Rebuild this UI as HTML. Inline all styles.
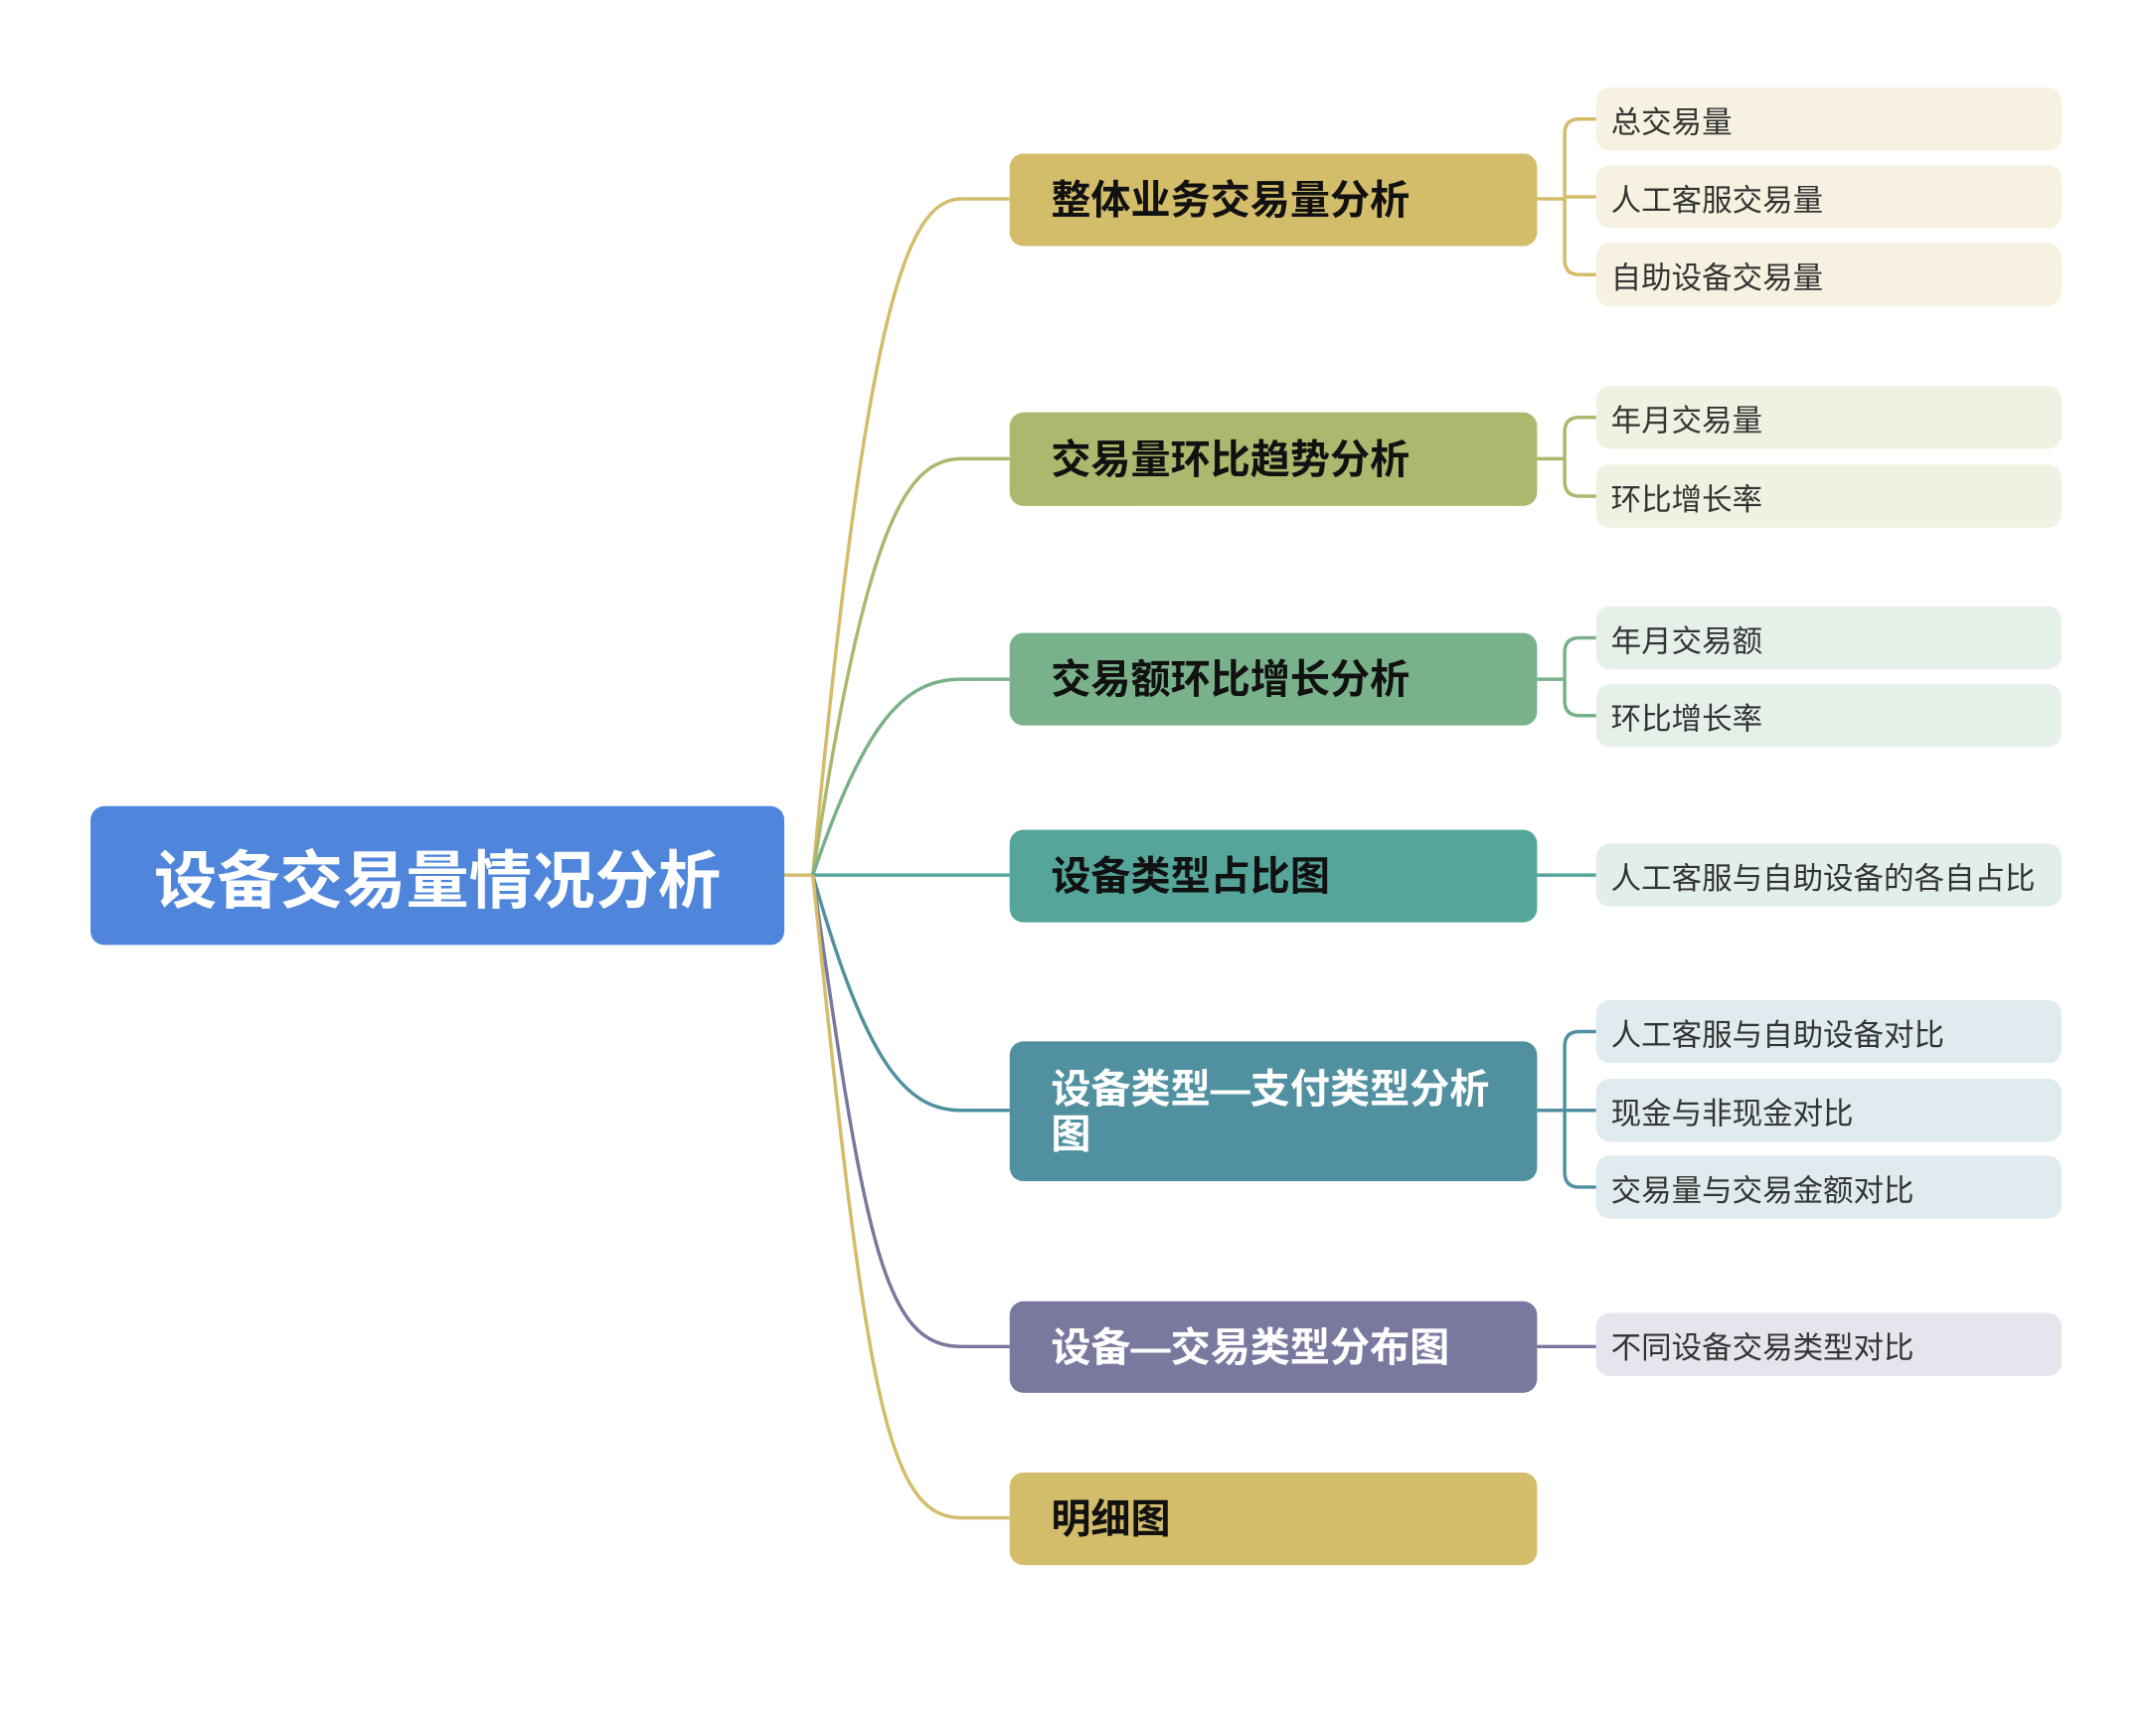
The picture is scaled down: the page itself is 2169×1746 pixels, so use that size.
<!DOCTYPE html>
<html><head><meta charset="utf-8"><style>
html,body{margin:0;padding:0;background:#fff}
body{width:2169px;height:1746px;position:relative;overflow:hidden;font-family:"Liberation Sans","Noto Sans CJK SC",sans-serif}
#w{position:absolute;left:0;top:0;width:2169px;height:1746px;transform:scale(0.99);transform-origin:0 0}
.n{position:absolute;left:1026px;width:536px;border-radius:14px;box-sizing:border-box;padding-left:42px;font-weight:bold;font-size:40.5px;display:flex;align-items:center;line-height:46px}
.l{position:absolute;left:1622px;width:473px;height:64px;border-radius:14px;box-sizing:border-box;padding-left:15px;font-size:30.8px;color:#333;display:flex;align-items:center;white-space:nowrap}
</style></head><body><div id="w">
<svg width="2169" height="1746" style="position:absolute;left:0;top:0" fill="none" stroke-width="3.5">
<path d="M797 889 L826 889" stroke="#D3BC6A"/>
<path d="M826 889 C880 319 920 202 977 202 L1026 202" stroke="#D3BC6A"/>
<path d="M826 889 C880 534 920 466 977 466 L1026 466" stroke="#ABB86D"/>
<path d="M826 889 C880 730 920 690 977 690 L1026 690" stroke="#78B18A"/>
<path d="M826 889 L1026 889" stroke="#55A59A"/>
<path d="M826 889 C880 1080 920 1128 977 1128 L1026 1128" stroke="#5190A0"/>
<path d="M826 889 C880 1272 900 1368 977 1368 L1026 1368" stroke="#79789F"/>
<path d="M826 889 C880 1411 900 1542 977 1542 L1026 1542" stroke="#D3BC6A"/>
<g stroke="#D3BC6A"><path d="M1562 202 L1590 202"/><path d="M1622 121 L1605 121 Q1590 121 1590 136 L1590 264 Q1590 279 1605 279 L1622 279"/><path d="M1590 200 L1622 200"/></g>
<g stroke="#ABB86D"><path d="M1562 466 L1590 466"/><path d="M1622 424 L1605 424 Q1590 424 1590 439 L1590 489 Q1590 504 1605 504 L1622 504"/></g>
<g stroke="#78B18A"><path d="M1562 690 L1590 690"/><path d="M1622 648 L1605 648 Q1590 648 1590 663 L1590 712 Q1590 727 1605 727 L1622 727"/></g>
<path d="M1562 889 L1622 889" stroke="#55A59A"/>
<g stroke="#5190A0"><path d="M1562 1128 L1622 1128"/><path d="M1622 1048 L1605 1048 Q1590 1048 1590 1063 L1590 1191 Q1590 1206 1605 1206 L1622 1206"/></g>
<path d="M1562 1368 L1622 1368" stroke="#79789F"/>
</svg>
<div style="position:absolute;left:92px;top:819px;width:705px;height:141px;background:#4F86DB;border-radius:14px;color:#fff;font-weight:bold;font-size:64px;display:flex;align-items:center;justify-content:center">设备交易量情况分析</div>
<div class="n" style="top:156px;height:94px;background:#D3BC6A;color:#111">整体业务交易量分析</div>
<div class="n" style="top:419px;height:95px;background:#ABB86D;color:#111">交易量环比趋势分析</div>
<div class="n" style="top:643px;height:94px;background:#78B18A;color:#111">交易额环比增长分析</div>
<div class="n" style="top:843px;height:94px;background:#55A59A;color:#111">设备类型占比图</div>
<div class="n" style="top:1058px;height:142px;background:#5190A0;color:#fff;padding-right:40px">设备类型—支付类型分析图</div>
<div class="n" style="top:1322px;height:93px;background:#79789F;color:#fff">设备—交易类型分布图</div>
<div class="n" style="top:1496px;height:94px;background:#D3BC6A;color:#111">明细图</div>
<div class="l" style="top:89px;background:#F6F1E0">总交易量</div>
<div class="l" style="top:168px;background:#F6F1E0">人工客服交易量</div>
<div class="l" style="top:247px;background:#F6F1E0">自助设备交易量</div>
<div class="l" style="top:392px;background:#F0F1E2">年月交易量</div>
<div class="l" style="top:472px;background:#F0F1E2">环比增长率</div>
<div class="l" style="top:616px;background:#E5F0E8">年月交易额</div>
<div class="l" style="top:695px;background:#E5F0E8">环比增长率</div>
<div class="l" style="top:857px;background:#E1EEEC">人工客服与自助设备的各自占比</div>
<div class="l" style="top:1016px;background:#DFEBEE">人工客服与自助设备对比</div>
<div class="l" style="top:1096px;background:#DFEBEE">现金与非现金对比</div>
<div class="l" style="top:1174px;background:#DFEBEE">交易量与交易金额对比</div>
<div class="l" style="top:1334px;background:#E6E5EE">不同设备交易类型对比</div>
</div></body></html>
